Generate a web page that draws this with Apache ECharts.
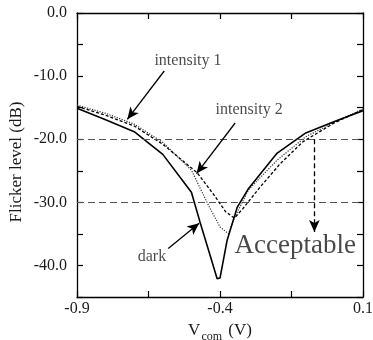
<!DOCTYPE html>
<html>
<head>
<meta charset="utf-8">
<script src="https://cdn.jsdelivr.net/npm/echarts@6/dist/echarts.min.js"></script>
<style>html,body{margin:0;padding:0;background:#fff}#c{width:373px;height:340px}</style>
</head>
<body>
<div id="c"></div>
<script>
// ---- data ----
const darkX = [-0.9, -0.8, -0.7, -0.6, -0.5, -0.47, -0.44, -0.41, -0.40, -0.375, -0.34, -0.30, -0.20, -0.10, 0.0, 0.1];
const darkY = [-15.1, -16.9, -18.8, -22.4, -28.4, -33.1, -37.6, -42.1, -42.0, -36.0, -30.8, -27.8, -22.2, -19.0, -17.2, -15.5];
const int1X = [-0.9, -0.8, -0.7, -0.6, -0.5, -0.44, -0.40, -0.37, -0.35, -0.30, -0.20, -0.10, 0.0, 0.1];
const int1Y = [-14.6, -15.9, -17.6, -20.5, -24.9, -30.5, -33.9, -35.0, -32.5, -28.0, -23.3, -19.6, -17.3, -15.2];
const int2X = [-0.9, -0.8, -0.7, -0.6, -0.48, -0.42, -0.38, -0.35, -0.32, -0.26, -0.19, -0.11, 0.0, 0.1];
const int2Y = [-14.8, -16.2, -17.9, -20.8, -25.3, -28.9, -31.5, -32.5, -31.0, -27.6, -23.9, -20.4, -17.4, -15.3];
const refLevels = [-20, -30];
const xTicks = [-0.9, -0.65, -0.4, -0.15, 0.1];
const xTickLabels = [-0.9, -0.4, 0.1];
const yTicks = [-45, -40, -35, -30, -25, -20, -15, -10, -5, 0];
const yTickLabels = [0, -10, -20, -30, -40];
// annotations: [x, y, text]
const notes = [[-0.512, -7.65, 'intensity 1'], [-0.298, -15.4, 'intensity 2'], [-0.638, -38.7, 'dark']];
const bigNote = [[-0.137, -36.9, 'Acceptable']];
// arrows: [x1, y1, x2, y2]
const arrows = [[-0.595, -9.19, -0.724, -16.85], [-0.347, -17.43, -0.482, -25.45], [-0.581, -37.3, -0.473, -33.3]];
const dropArrow = [-0.07, -20, -0.07, -34.7];

const zip = (xs, ys) => xs.map((x, i) => [x, ys[i]]);
const FONT = 'Liberation Serif';
const TXT = '#1a1a1a';
const chart = echarts.init(document.getElementById('c'), null, {renderer: 'canvas'});
const axisCommon = {
  axisLine: {show: true, onZero: false, lineStyle: {color: '#000', width: 1.3}},
  splitLine: {show: false},
};
const opt = {
  animation: false,
  backgroundColor: '#fff',
  grid: {left: 77, right: 10, top: 13, bottom: 43, containLabel: false, outerBoundsMode: 'none'},
  xAxis: [
    Object.assign({}, axisCommon, {
      type: 'value', min: -0.9, max: 0.1, position: 'bottom',
      axisTick: {show: true, inside: true, length: 6, customValues: xTicks, lineStyle: {color: '#000', width: 1.2}},
      axisLabel: {show: true, customValues: xTickLabels, margin: 4, fontFamily: FONT, fontSize: 16, color: TXT,
        formatter: v => v.toFixed(1)},
      name: '{v|V}{s|com}{v| (V)}', nameLocation: 'middle', nameGap: 8,
      nameTextStyle: {fontFamily: FONT, color: TXT,
        rich: {v: {fontFamily: FONT, fontSize: 17, color: TXT, lineHeight: 22, verticalAlign: 'bottom'},
               s: {fontFamily: FONT, fontSize: 12, color: TXT, lineHeight: 22, verticalAlign: 'bottom', padding: [0, 2, -4, 1]}}}
    }),
    Object.assign({}, axisCommon, {
      type: 'value', min: -0.9, max: 0.1, position: 'top',
      axisTick: {show: true, inside: true, length: 6, customValues: xTicks, lineStyle: {color: '#000', width: 1.2}},
      axisLabel: {show: false}
    })
  ],
  yAxis: [
    Object.assign({}, axisCommon, {
      type: 'value', min: -45, max: 0, interval: 5, position: 'left',
      axisTick: {show: true, inside: true, length: 6, customValues: yTicks, lineStyle: {color: '#000', width: 1.2}},
      axisLabel: {show: true, customValues: yTickLabels, margin: 10, fontFamily: FONT, fontSize: 16, color: TXT,
        formatter: v => v.toFixed(1)}
    }),
    Object.assign({}, axisCommon, {
      type: 'value', min: -45, max: 0, interval: 5, position: 'right',
      axisTick: {show: true, inside: true, length: 6, customValues: yTicks, lineStyle: {color: '#000', width: 1.2}},
      axisLabel: {show: false}
    })
  ],
  graphic: [{
    type: 'text', x: 17, y: 162, rotation: Math.PI / 2,
    style: {text: 'Flicker level (dB)', fontFamily: FONT, fontSize: 17, fill: TXT, textAlign: 'center', textVerticalAlign: 'middle'}
  }],
  series: [
    {
      name: 'intensity 1', type: 'line', data: zip(int1X, int1Y), symbol: 'none',
      lineStyle: {color: '#333', width: 1.2, type: [1.2, 1.4]}, z: 3
    },
    {
      name: 'intensity 2', type: 'line', data: zip(int2X, int2Y), symbol: 'none',
      lineStyle: {color: '#000', width: 1.3, type: [3, 2]}, z: 3
    },
    {
      name: 'dark', type: 'line', data: zip(darkX, darkY), symbol: 'none',
      lineStyle: {color: '#000', width: 1.6}, z: 4,
      markLine: {
        silent: true, symbol: ['none', 'none'], label: {show: false},
        data: refLevels.map(v => ({yAxis: v, lineStyle: {color: '#555', width: 1.2, type: [7, 4]}}))
          .concat(arrows.map(a => [
            {coord: [a[0], a[1]], symbol: 'none', lineStyle: {color: '#000', width: 1.3, type: 'solid'}},
            {coord: [a[2], a[3]], symbol: 'arrow', symbolSize: [8, 12]}
          ]))
          .concat([[
            {coord: [dropArrow[0], dropArrow[1]], symbol: 'none', lineStyle: {color: '#000', width: 1.3, type: [5, 3]}},
            {coord: [dropArrow[2], dropArrow[3]], symbol: 'arrow', symbolSize: [8, 12]}
          ]])
      }
    },
    {
      type: 'scatter', data: notes, symbolSize: 0, silent: true, z: 5,
      label: {show: true, position: 'inside', formatter: p => p.data[2], fontFamily: FONT, fontSize: 16, color: TXT}
    },
    {
      type: 'scatter', data: bigNote, symbolSize: 0, silent: true, z: 5,
      label: {show: true, position: 'inside', formatter: p => p.data[2], fontFamily: FONT, fontSize: 27, color: TXT}
    }
  ]
};
chart.setOption(opt);
</script>
</body>
</html>
